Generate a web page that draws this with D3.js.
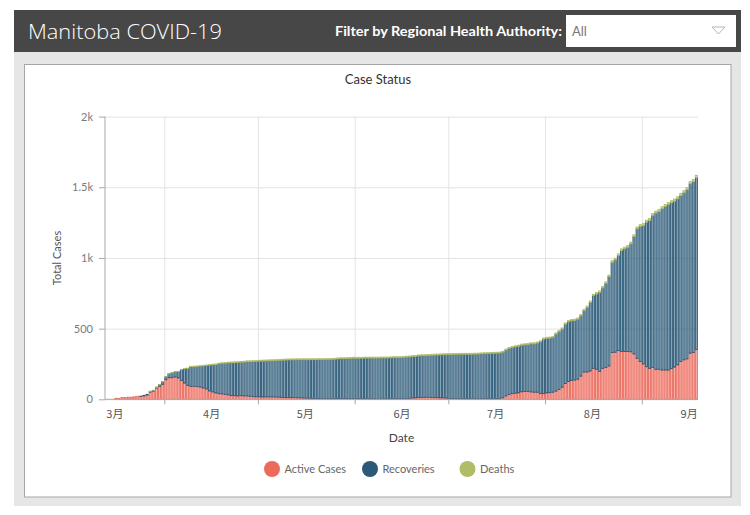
<!DOCTYPE html>
<html>
<head>
<meta charset="utf-8">
<script src="https://cdn.jsdelivr.net/npm/d3@7"></script>
<style>
  html, body { margin: 0; padding: 0; background: #ffffff; }
  svg { display: block; font-family: Lato, "Open Sans", sans-serif; }
</style>
</head>
<body>
<svg id="chart" width="750" height="515"></svg>
<script>
// ---------- DATA ----------
const startDate = "2020-03-13";           // first day on the axis
const seriesNames = ["Active Cases", "Recoveries", "Deaths"];
const monthLabels = ["3月", "4月", "5月", "6月", "7月", "8月", "9月"];
const yTickValues = [0, 500, 1000, 1500, 2000];
const yTickLabels = ["0", "500", "1k", "1.5k", "2k"];

const activeCases = [
  0,0,0,7,7,13,13,15,15,18,
  21,21,24,30,51,58,80,92,106,139,
  153,153,158,151,134,115,99,92,92,90,
  87,80,73,59,52,45,40,38,35,31,
  26,26,24,26,24,24,21,19,18,18,
  17,17,17,16,16,15,14,13,13,12,
  12,11,10,9,8,7,6,6,5,5,
  4,4,4,4,5,6,5,5,5,5,
  4,4,3,3,3,3,2,2,2,2,
  2,3,4,4,4,4,5,6,9,10,
  13,13,14,14,13,12,12,10,10,8,
  6,5,5,4,3,3,3,3,3,3,
  3,4,3,3,3,4,5,11,24,34,
  40,43,46,53,56,56,52,50,50,42,
  40,45,47,50,58,69,86,112,126,133,
  136,142,164,193,193,200,219,212,198,219,
  225,236,331,333,345,338,338,338,336,321,
  290,267,250,231,219,226,212,212,207,207,
  207,217,228,244,267,279,286,326,331,352
];
const recoveries = [
  0,0,0,0,0,0,0,0,0,0,
  0,1,4,5,5,5,5,11,18,20,
  27,34,36,45,76,101,119,138,138,142,
  147,156,166,182,192,200,211,216,220,226,
  232,233,236,236,239,241,245,248,250,251,
  253,254,255,257,258,260,262,264,265,267,
  267,269,270,271,272,273,274,274,276,276,
  277,278,278,279,280,281,282,283,284,285,
  286,286,287,288,288,288,289,289,290,290,
  290,290,291,291,291,292,293,293,293,293,
  294,295,295,296,298,300,301,304,305,308,
  310,312,312,314,315,315,315,315,316,317,
  318,319,320,321,322,322,322,322,324,326,
  327,328,329,329,329,331,340,342,347,364,
  385,385,385,387,403,410,410,419,422,422,
  422,424,426,433,457,485,514,532,558,568,
  595,632,638,653,672,714,726,737,763,830,
  916,956,979,1022,1046,1074,1105,1116,1140,1157,
  1171,1173,1173,1173,1174,1181,1196,1198,1208,1217
];
const deaths = [
  0,0,0,0,0,0,0,0,0,0,
  0,0,0,0,1,1,1,1,1,1,
  1,2,2,2,2,3,3,3,4,4,
  4,4,4,4,4,5,5,5,5,5,
  6,6,6,6,6,7,7,7,7,7,
  7,7,7,7,7,7,7,7,7,7,
  7,7,7,7,7,7,7,7,7,7,
  7,7,7,7,7,7,7,7,7,7,
  7,7,7,7,7,7,7,7,7,7,
  7,7,7,7,7,7,7,7,7,7,
  7,7,7,7,7,7,7,7,7,7,
  7,7,7,7,7,7,7,7,7,7,
  7,7,7,7,7,7,7,7,7,7,
  7,8,8,8,8,8,8,8,8,8,
  8,8,8,8,8,9,9,9,9,9,
  9,9,10,10,10,10,10,11,11,11,
  11,11,12,12,12,12,12,13,13,13,
  13,13,14,14,14,14,14,15,15,15,
  15,15,16,16,16,16,16,16,16,16
];

// ---------- LAYOUT ----------
const svg = d3.select("#chart");
const colors = { active: "#ec6a5c", recoveries: "#2b5a78", deaths: "#b1bc66" };
const plot = { left: 105, right: 698, top: 116.6, bottom: 399.3 };

// Page chrome
svg.append("rect").attr("x", 14).attr("y", 10).attr("width", 727).attr("height", 42).attr("fill", "#474747");
svg.append("text").attr("x", 28).attr("y", 39).attr("fill", "#ffffff")
  .attr("font-size", 21).attr("font-family", "'Open Sans', sans-serif").attr("font-weight", 300)
  .attr("textLength", 194).attr("lengthAdjust", "spacingAndGlyphs")
  .text("Manitoba COVID-19");
svg.append("text").attr("x", 335).attr("y", 36).attr("fill", "#ffffff")
  .attr("font-size", 13).attr("font-weight", "bold").attr("font-family", "Lato, sans-serif")
  .attr("textLength", 227).attr("lengthAdjust", "spacingAndGlyphs")
  .text("Filter by Regional Health Authority:");
svg.append("rect").attr("x", 566).attr("y", 15).attr("width", 170).attr("height", 32).attr("fill", "#ffffff");
svg.append("text").attr("x", 572).attr("y", 36).attr("fill", "#777777")
  .attr("font-size", 13).text("All");
svg.append("path").attr("d", "M712,27 L725,27 L718.5,34 Z")
  .attr("fill", "none").attr("stroke", "#b5b5b5").attr("stroke-width", 1);

svg.append("rect").attr("x", 14).attr("y", 52).attr("width", 727).attr("height", 454).attr("fill", "#e6e6e6");
svg.append("rect").attr("x", 24.5).attr("y", 64.5).attr("width", 706.5).attr("height", 432.5)
  .attr("fill", "#ffffff").attr("stroke", "#a6a6a6").attr("stroke-width", 1);

svg.append("text").attr("x", 378).attr("y", 84).attr("text-anchor", "middle")
  .attr("fill", "#333333").attr("font-size", 13).text("Case Status");

// ---------- SCALES ----------
const parse = d3.timeParse("%Y-%m-%d");
const start = parse(startDate);
const dates = d3.range(activeCases.length).map(i => d3.timeDay.offset(start, i));
const end = d3.timeDay.offset(start, activeCases.length);

const x = d3.scaleTime().domain([start, end]).range([plot.left, plot.right]);
const y = d3.scaleLinear().domain([0, 2000]).range([plot.bottom, plot.top]);

// gridlines
const gridY = svg.append("g").attr("transform", `translate(${plot.left},0)`)
  .call(d3.axisLeft(y).tickValues(yTickValues).tickSize(-(plot.right - plot.left)).tickFormat(""));
gridY.select(".domain").remove();
gridY.selectAll("line").attr("stroke", "#e3e3e3");

const monthStarts = d3.timeMonth.range(d3.timeMonth.ceil(start), end);
const gridX = svg.append("g").attr("transform", `translate(0,${plot.top})`)
  .call(d3.axisBottom(x).tickValues(monthStarts).tickSize(plot.bottom - plot.top).tickFormat(""));
gridX.select(".domain").remove();
gridX.selectAll("line").attr("stroke", "#e3e3e3");

// ---------- BARS ----------
const table = dates.map((d, i) => ({
  date: d, active: activeCases[i], recoveries: recoveries[i], deaths: deaths[i]
}));
const keys = ["active", "recoveries", "deaths"];
const stacked = d3.stack().keys(keys)(table);

const barsG = svg.append("g");
stacked.forEach(layer => {
  const key = layer.key;
  barsG.append("g")
    .selectAll("rect")
    .data(layer.filter(s => s[1] - s[0] > 0))
    .join("rect")
    .attr("x", s => x(s.data.date) + 0.5)
    .attr("width", s => x(d3.timeDay.offset(s.data.date, 1)) - x(s.data.date) - 1.1)
    .attr("y", s => y(s[1]))
    .attr("height", s => Math.max(0.1, y(s[0]) - y(s[1])))
    .attr("fill", colors[key]).attr("fill-opacity", 0.55)
    .attr("stroke", colors[key]).attr("stroke-width", 0.9);
});

// ---------- AXES ----------
const yAxis = svg.append("g").attr("transform", `translate(${plot.left},0)`)
  .call(d3.axisLeft(y).tickValues(yTickValues).tickSize(6).tickPadding(6)
    .tickFormat((d, i) => yTickLabels[i]));
yAxis.select(".domain").attr("stroke", "#a8a8a8").attr("d", `M0,${plot.top}V${plot.bottom}`);
yAxis.selectAll(".tick line").attr("stroke", "#a8a8a8");
yAxis.selectAll(".tick text").attr("fill", "#7a7a7a").attr("font-size", 11)
  .attr("font-family", "Lato, sans-serif");

const xAxis = svg.append("g").attr("transform", `translate(0,${plot.bottom})`)
  .call(d3.axisBottom(x).tickValues(monthStarts).tickSize(5).tickFormat(""));
xAxis.select(".domain").attr("stroke", "#a8a8a8").attr("d", `M${plot.left},0H${plot.right}`);
xAxis.selectAll(".tick line").attr("stroke", "#a8a8a8");

const labelDates = d3.range(monthLabels.length).map(i => new Date(2020, 2 + i, 16));
const xLabels = svg.append("g").attr("transform", `translate(0,${plot.bottom})`)
  .call(d3.axisBottom(x).tickValues(labelDates).tickSize(0).tickPadding(11)
    .tickFormat((d, i) => monthLabels[i]));
xLabels.select(".domain").remove();
xLabels.selectAll("text").attr("fill", "#555555").attr("font-size", 11)
  .attr("font-family", "'Noto Sans CJK JP', sans-serif");

// axis titles
svg.append("text").attr("x", (plot.left + plot.right) / 2).attr("y", 442)
  .attr("text-anchor", "middle").attr("fill", "#444444").attr("font-size", 12).text("Date");
svg.append("text").attr("transform", "translate(61,258) rotate(-90)")
  .attr("text-anchor", "middle").attr("fill", "#555555").attr("font-size", 11).text("Total Cases");

// ---------- LEGEND ----------
const legendX = [272, 370, 467.5];
const legend = svg.append("g");
keys.forEach((k, i) => {
  legend.append("circle").attr("cx", legendX[i]).attr("cy", 469).attr("r", 8).attr("fill", colors[k]);
  legend.append("text").attr("x", legendX[i] + 12.5).attr("y", 473)
    .attr("fill", "#666666").attr("font-size", 11).text(seriesNames[i]);
});
</script>
</body>
</html>
